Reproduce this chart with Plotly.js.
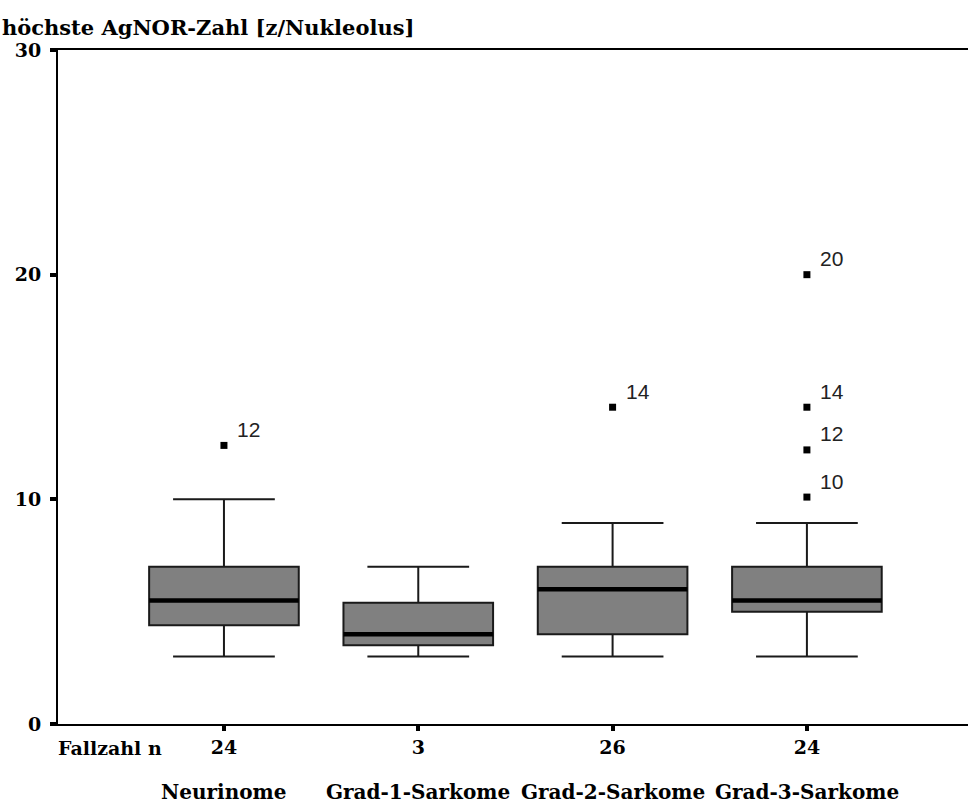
<!DOCTYPE html>
<html>
<head>
<meta charset="utf-8">
<script src="https://cdn.plot.ly/plotly-3.0.1.min.js"></script>
<style>html,body{margin:0;padding:0;background:#fff;}</style>
</head>
<body>
<div id="chart" style="width:968px;height:805px;"></div>
<script>
const categories = ["Neurinome", "Grad-1-Sarkome", "Grad-2-Sarkome", "Grad-3-Sarkome"];
const caseCounts = [24, 3, 26, 24];
const lowerWhisker = [3, 3, 3, 3];
const q1Values = [4.4, 3.5, 4, 5];
const medianValues = [5.5, 4, 6, 5.5];
const q3Values = [7, 5.4, 7, 7];
const upperWhisker = [10, 7, 8.95, 8.95];
const outlierGroup = [0, 2, 3, 3, 3, 3];
const outlierValues = [12.4, 14.1, 20, 14.1, 12.2, 10.1];
const outlierLabels = ["12", "14", "20", "14", "12", "10"];

const pos = categories.map((c, i) => i);
const serif = "DejaVu Serif, serif";
const fs = 20;

const boxTrace = {
  type: "box",
  x: pos,
  q1: q1Values,
  median: medianValues,
  q3: q3Values,
  lowerfence: lowerWhisker,
  upperfence: upperWhisker,
  boxpoints: false,
  width: 0.77,
  whiskerwidth: 0.68,
  fillcolor: "#808080",
  line: {color: "#1a1a1a", width: 2},
  hoverinfo: "skip",
  showlegend: false
};

const medianTrace = {
  type: "box",
  x: pos,
  q1: medianValues,
  median: medianValues,
  q3: medianValues,
  lowerfence: medianValues,
  upperfence: medianValues,
  boxpoints: false,
  width: 0.77,
  whiskerwidth: 0,
  fillcolor: "#000000",
  line: {color: "#000000", width: 4.5},
  hoverinfo: "skip",
  showlegend: false
};

const outlierTrace = {
  type: "scatter",
  mode: "markers",
  x: outlierGroup,
  y: outlierValues,
  marker: {symbol: "square", size: 7, color: "#000"},
  hoverinfo: "skip",
  showlegend: false
};

const outlierAnnotations = outlierLabels.map((t, i) => ({
  text: t,
  xref: "x", yref: "y",
  x: outlierGroup[i], y: outlierValues[i],
  xanchor: "left", yanchor: "middle",
  xshift: 11, yshift: 16,
  showarrow: false,
  font: {family: "Liberation Sans Narrow, Arial Narrow, sans-serif", size: 21, color: "#222"}
}));

const categoryAnnotations = categories.map((c, i) => ({
  text: "<b>" + c + "</b>",
  xref: "x", yref: "paper",
  x: pos[i], y: 0, xanchor: "center", yanchor: "middle",
  yshift: -68,
  showarrow: false,
  font: {family: serif, size: fs, color: "#000"}
}));

const layout = {
  width: 968,
  height: 805,
  margin: {l: 58, r: 0, t: 50, b: 81},
  paper_bgcolor: "#fff",
  plot_bgcolor: "#fff",
  boxmode: "overlay",
  title: {
    text: "<b>höchste AgNOR-Zahl [z/Nukleolus]</b>",
    font: {family: serif, size: 21, color: "#000"},
    xref: "container", x: 0.002, xanchor: "left",
    yref: "container", y: 0.966, yanchor: "middle"
  },
  xaxis: {
    range: [-0.854, 3.829],
    tickvals: pos,
    ticktext: caseCounts.map(n => "<b>" + n + "</b>"),
    tickfont: {family: serif, size: 19, color: "#000"},
    showgrid: false, zeroline: false,
    showline: true, linecolor: "#000", linewidth: 2, mirror: true,
    ticks: "outside", ticklen: 5, tickwidth: 4, tickcolor: "#000",
    fixedrange: true
  },
  yaxis: {
    range: [0, 30],
    tickvals: [0, 10, 20, 30],
    ticktext: ["<b>0</b>", "<b>10</b>", "<b>20</b>", "<b>30</b>"],
    tickfont: {family: serif, size: 19, color: "#000"},
    showgrid: false, zeroline: false,
    showline: true, linecolor: "#000", linewidth: 2,
    ticks: "outside", ticklen: 6, tickwidth: 4, tickcolor: "#000",
    ticklabelstandoff: 5,
    fixedrange: true
  },
  annotations: [{
    text: "<b>Fallzahl n</b>",
    xref: "paper", yref: "paper",
    x: 0, y: 0, xanchor: "left", yanchor: "middle",
    xshift: -2, yshift: -24,
    showarrow: false,
    font: {family: serif, size: 19, color: "#000"}
  }].concat(categoryAnnotations, outlierAnnotations)
};

Plotly.newPlot("chart", [boxTrace, medianTrace, outlierTrace], layout, {displayModeBar: false, staticPlot: true});
</script>
</body>
</html>
